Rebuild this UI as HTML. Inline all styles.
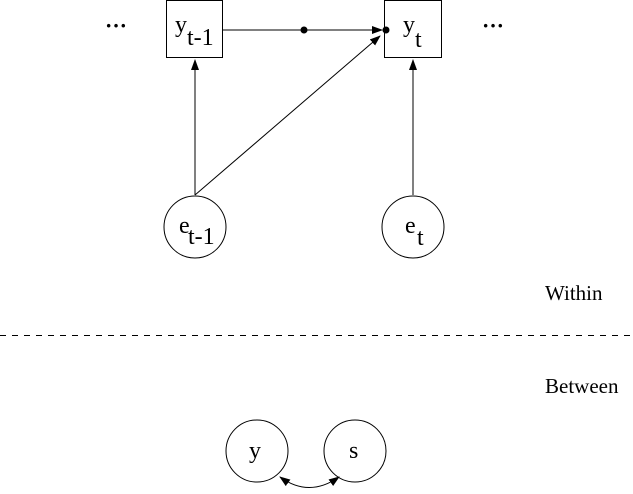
<!DOCTYPE html>
<html><head><style>body{margin:0;background:#fff}svg{display:block}text{font-family:"Liberation Serif",serif;fill:#000}</style></head><body>
<svg width="633" height="494" viewBox="0 0 633 494">
<defs><marker id="a" markerWidth="11" markerHeight="8" refX="10" refY="4" orient="auto-start-reverse" markerUnits="userSpaceOnUse"><path d="M0,0 L11,4 L0,8 z"/></marker></defs>
<g stroke="#000" stroke-width="1" fill="none">
<rect x="166.5" y="0.5" width="56" height="57"/>
<rect x="384.5" y="0.5" width="57" height="57"/>
<circle cx="195" cy="227" r="31"/>
<circle cx="413" cy="227" r="31"/>
<circle cx="257" cy="451" r="31"/>
<circle cx="355" cy="451" r="31"/>
<line x1="222" y1="30" x2="382" y2="30" marker-end="url(#a)"/>
<line x1="195" y1="195" x2="195" y2="60" marker-end="url(#a)"/>
<line x1="413" y1="195" x2="413" y2="60" marker-end="url(#a)"/>
<line x1="195" y1="195" x2="380" y2="36" marker-end="url(#a)"/>
<path d="M280,477 Q309,498 339,477" marker-start="url(#a)" marker-end="url(#a)"/>
<line x1="0" y1="335.5" x2="633" y2="335.5" stroke-dasharray="6,6"/>
</g>
<circle cx="304" cy="30" r="3.5"/>
<circle cx="386" cy="30" r="3.5"/>
<text x="105" y="33" style="font-size:22px;font-weight:bold">···</text>
<text x="482" y="33" style="font-size:22px;font-weight:bold">···</text>
<text x="175" y="32" style="font-size:24px">y</text><text x="187" y="45" style="font-size:24px">t-1</text>
<text x="403" y="32" style="font-size:24px">y</text><text x="415" y="47" style="font-size:24px">t</text>
<text x="179" y="233" style="font-size:24px">e</text><text x="188" y="244" style="font-size:24px">t-1</text>
<text x="405" y="233" style="font-size:24px">e</text><text x="417" y="245" style="font-size:24px">t</text>
<text x="249" y="458" style="font-size:24px">y</text>
<text x="349" y="458" style="font-size:24px">s</text>
<text x="545" y="300" style="font-size:21px">Within</text>
<text x="545" y="393" style="font-size:21px">Between</text>
</svg>
</body></html>
